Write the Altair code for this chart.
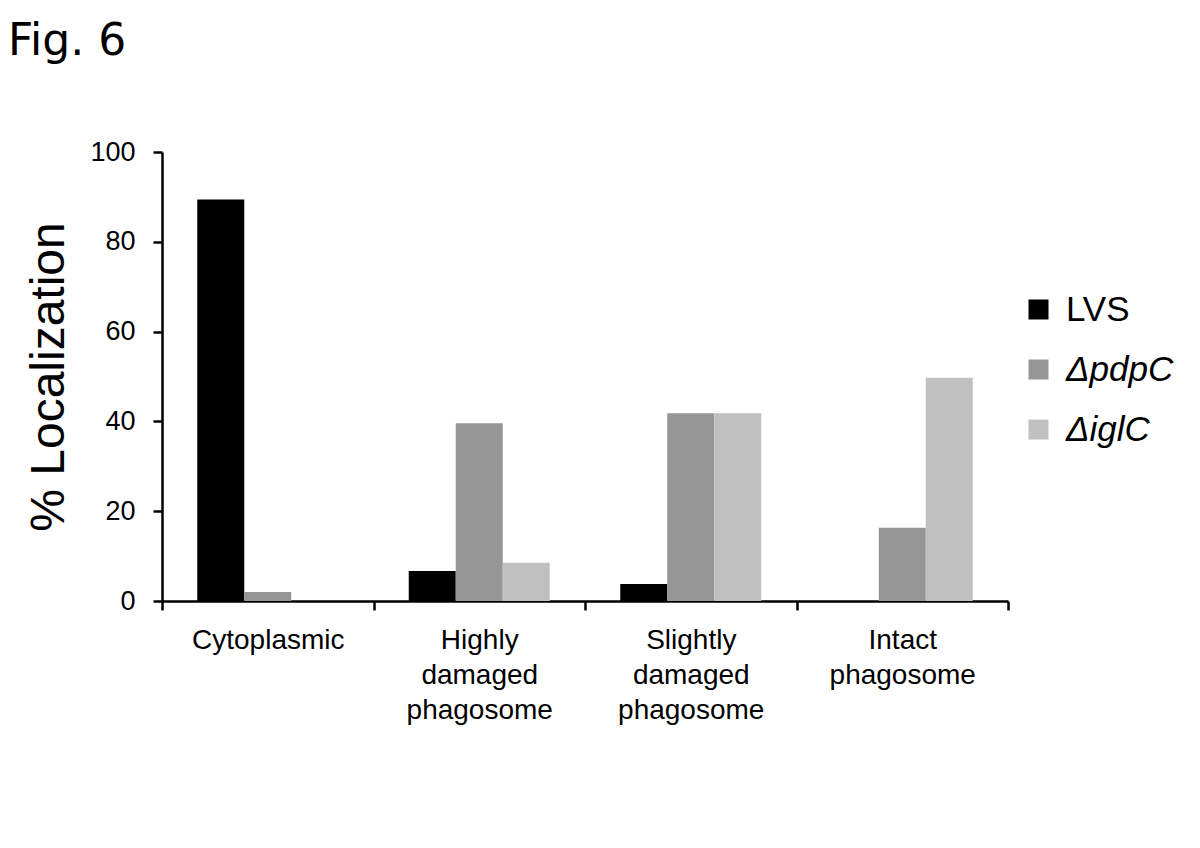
import altair as alt
import pandas as pd

categories = ["Cytoplasmic", "Highly\ndamaged\nphagosome", "Slightly\ndamaged\nphagosome", "Intact\nphagosome"]
series = ["LVS", "ΔpdpC", "ΔiglC"]
colors = ["#000000", "#969696", "#c0c0c0"]
values = {
    "LVS":   [89.4, 6.7, 3.8, 0.0],
    "ΔpdpC": [2.0, 39.6, 41.8, 16.3],
    "ΔiglC": [0.0, 8.5, 41.8, 49.7],
}

rows = []
for s in series:
    for c, v in zip(categories, values[s]):
        rows.append({"category": c, "series": s, "value": v})
df = pd.DataFrame(rows)

chart = alt.Chart(df).mark_bar().encode(
    x=alt.X("category:N", sort=categories,
            scale=alt.Scale(paddingInner=0, paddingOuter=0),
            axis=alt.Axis(title=None, labelAngle=0, tickBand="extent",
                          labelExpr="split(datum.label, '\\n')",
                          labelFont="Liberation Sans", labelFontSize=28,
                          labelColor="black", labelLineHeight=35,
                          labelPadding=16, domainColor="black", domainWidth=2.5,
                          tickColor="black", tickWidth=2.5, tickSize=9, ticks=True)),
    xOffset=alt.XOffset("series:N", sort=series,
                        scale=alt.Scale(paddingInner=0, paddingOuter=0.75)),
    y=alt.Y("value:Q", scale=alt.Scale(domain=[0, 100], nice=False),
            axis=alt.Axis(title="% Localization", values=[0, 20, 40, 60, 80, 100],
                          grid=False, labelFont="Liberation Sans", labelFontSize=27,
                          labelColor="black", labelPadding=18,
                          titleFont="Liberation Sans", titleFontSize=48,
                          titleFontWeight="normal", titleColor="black",
                          titlePadding=16, domainColor="black", domainWidth=2.5,
                          tickColor="black", tickWidth=2.5, tickSize=9, ticks=True)),
    color=alt.Color("series:N", sort=series,
                    scale=alt.Scale(domain=series, range=colors),
                    legend=alt.Legend(title=None, orient="none", legendX=859, legendY=140,
                                      symbolType="square", symbolSize=400,
                                      symbolStrokeWidth=0, symbolOpacity=1,
                                      labelFont="Liberation Sans", labelFontSize=35,
                                      labelColor="black", labelOffset=10,
                                      labelFontStyle={"expr": "datum.label == 'LVS' ? 'normal' : 'italic'"},
                                      rowPadding=24)),
).properties(
    width=846, height=449,
    title=alt.TitleParams("Fig. 6", anchor="start", frame="group", font="DejaVu Sans",
                          fontSize=44, fontWeight="normal", color="black",
                          dx=-154, dy=-70),
    autosize=alt.AutoSizeParams(type="none"),
    padding={"left": 154, "top": 144, "right": 184, "bottom": 239},
).configure_view(stroke=None)

chart.save("out.html", embed_options={"renderer": "svg", "actions": False})
